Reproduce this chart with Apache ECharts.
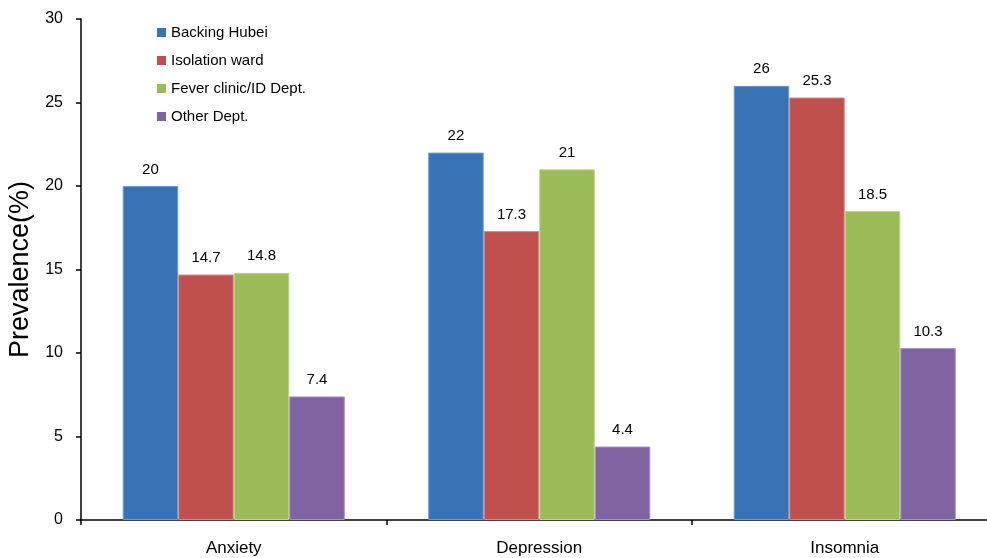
<!DOCTYPE html>
<html>
<head>
<meta charset="utf-8">
<script src="https://cdn.jsdelivr.net/npm/echarts@6/dist/echarts.min.js"></script>
<style>html,body{margin:0;padding:0;background:#fff}#c{width:987px;height:558px}</style>
</head>
<body>
<div id="c"></div>
<script>
const categories = ['Anxiety', 'Depression', 'Insomnia'];
const seriesNames = ['Backing Hubei', 'Isolation ward', 'Fever clinic/ID Dept.', 'Other Dept.'];
const backingHubei = [20, 22, 26];
const isolationWard = [14.7, 17.3, 25.3];
const feverClinic = [14.8, 21, 18.5];
const otherDept = [7.4, 4.4, 10.3];
const yTicks = [0, 5, 10, 15, 20, 25, 30];

const colors = ['#3873B5', '#C0504D', '#9BBB59', '#8064A2'];
const borders = ['#6F9BD2', '#D78A88', '#BBD38F', '#A894C0'];
const values = [backingHubei, isolationWard, feverClinic, otherDept];
const font = 'Liberation Sans, Arial, sans-serif';

const chart = echarts.init(document.getElementById('c'), null, {renderer: 'canvas'});
chart.setOption({
  animation: false,
  backgroundColor: '#fff',
  grid: {left: 81, top: 19, bottom: 38, width: 916.5, containLabel: false, outerBoundsMode: 'none'},
  legend: {
    orient: 'vertical', left: 152, top: 20,
    itemWidth: 9, itemHeight: 9, itemGap: 13,
    icon: 'rect',
    itemStyle: {borderWidth: 0},
    textStyle: {fontFamily: font, fontSize: 15, color: '#000'},
    data: seriesNames
  },
  xAxis: {
    type: 'category', data: categories,
    axisLine: {lineStyle: {color: '#000', width: 1.5}},
    axisTick: {show: true, length: 5, lineStyle: {color: '#000', width: 1.5}},
    axisLabel: {fontFamily: font, fontSize: 17, color: '#000', margin: 20}
  },
  yAxis: {
    type: 'value', min: yTicks[0], max: yTicks[yTicks.length - 1], interval: 5,
    name: 'Prevalence(%)', nameLocation: 'middle', nameGap: 40, nameRotate: 90,
    nameTextStyle: {fontFamily: font, fontSize: 27, color: '#000'},
    splitLine: {show: false},
    axisLine: {show: true, lineStyle: {color: '#000', width: 1.5}},
    axisTick: {show: true, length: 5, lineStyle: {color: '#000', width: 1.5}},
    axisLabel: {fontFamily: font, fontSize: 16, color: '#000', margin: 18}
  },
  series: seriesNames.map((n, i) => ({
    name: n, type: 'bar', data: values[i],
    barGap: '0%', barCategoryGap: '27.3%',
    itemStyle: {color: colors[i], borderColor: borders[i], borderWidth: 1},
    label: {show: true, position: 'top', distance: 9, fontFamily: font, fontSize: 15, color: '#000'}
  }))
});
</script>
</body>
</html>
